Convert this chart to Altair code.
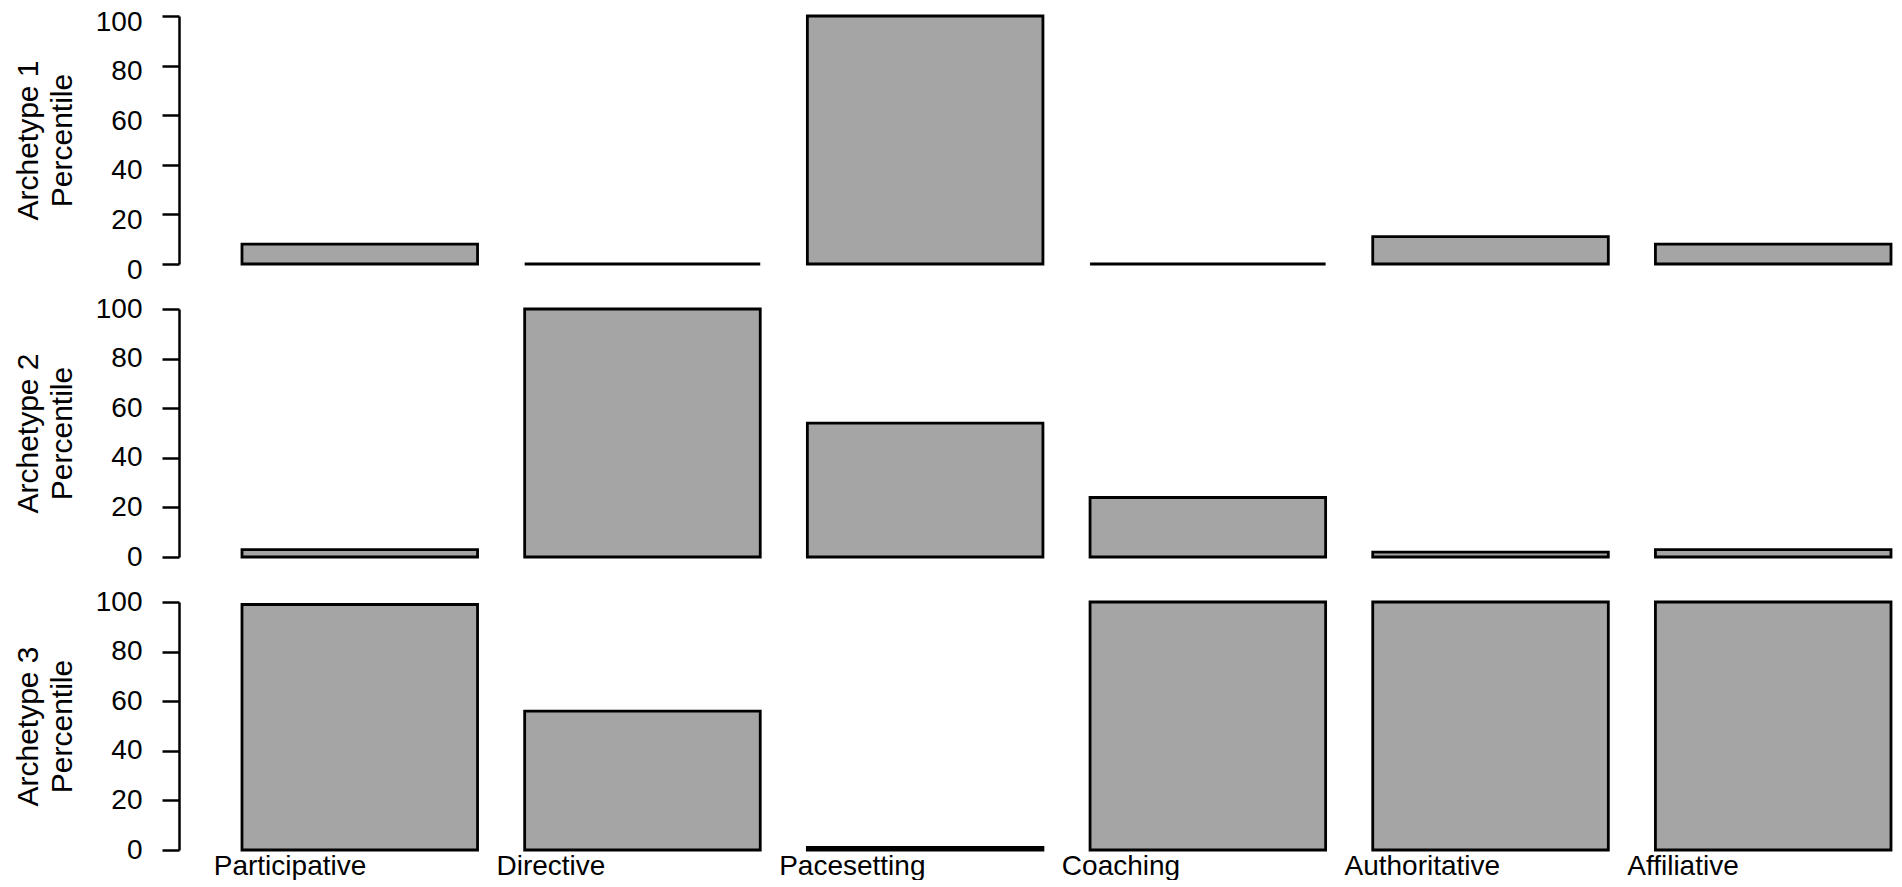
import altair as alt
import pandas as pd

categories = ["Participative", "Directive", "Pacesetting", "Coaching", "Authoritative", "Affiliative"]
archetype1 = [8, 0, 100, 0, 11, 8]
archetype2 = [3, 100, 54, 24, 2, 3]
archetype3 = [99, 56, 1, 100, 100, 100]
y_ticks = [0, 20, 40, 60, 80, 100]
panel_titles = [["Archetype 1", "Percentile"], ["Archetype 2", "Percentile"], ["Archetype 3", "Percentile"]]

FONT = "Liberation Sans"
FILL = "#a5a5a5"


def panel(values, title, show_x, label_offset=0):
    df = pd.DataFrame({"style": categories, "value": values})
    x_axis = None
    if show_x:
        x_axis = alt.Axis(
            title=None, labelAngle=0, labelAlign="left", labelOffset=-146,
            labelPadding=2, ticks=False, domain=False, labelFont=FONT,
            labelFontSize=28, labelColor="black",
        )
    return alt.Chart(df).mark_bar(fill=FILL, stroke="black", strokeWidth=2.8).encode(
        x=alt.X("style:N", sort=categories,
                scale=alt.Scale(paddingInner=1 / 6, paddingOuter=0.1114, align=1),
                axis=x_axis),
        y=alt.Y("value:Q", scale=alt.Scale(domain=[0, 100], nice=False, zero=True),
                axis=alt.Axis(
                    values=y_ticks, title=title, grid=False,
                    tickSize=17, tickWidth=2.5, tickColor="black",
                    domainWidth=2.5, domainColor="black",
                    labelPadding=20, labelFont=FONT, labelFontSize=28, labelColor="black",
                    labelOffset=label_offset,
                    titleFont=FONT, titleFontSize=30, titleFontWeight="normal",
                    titleColor="black", titleLineHeight=34, titlePadding=18,
                )),
    ).properties(width=1712, height=248)


p1 = panel(archetype1, panel_titles[0], False, label_offset=6)
p2 = panel(archetype2, panel_titles[1], False)
p3 = panel(archetype3, panel_titles[2], True)

chart = alt.vconcat(p1, p2, p3, spacing=45, bounds="flush").properties(
    padding={"left": 5, "top": 0, "right": 0, "bottom": 0}
).configure(background="white").configure_view(stroke=None)

chart.save("out.html", embed_options={"renderer": "svg", "actions": False})
